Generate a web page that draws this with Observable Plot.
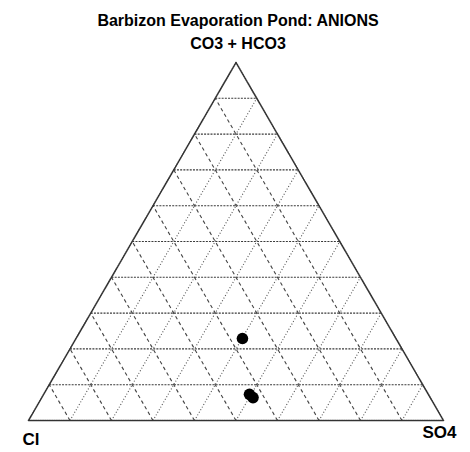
<!DOCTYPE html>
<html>
<head>
<meta charset="utf-8">
<script src="https://cdn.jsdelivr.net/npm/d3@7"></script>
<script src="https://cdn.jsdelivr.net/npm/@observablehq/plot@0.6"></script>
<style>
  html, body { margin: 0; padding: 0; background: #fff; }
  #chart svg { display: block; }
</style>
</head>
<body>
<div id="chart"></div>
<script>
// Anion composition of the pond samples, in percent of total anions
const co3hco3 = [22.9, 7.3, 6.4];
const so4     = [40.1, 49.6, 50.9];
const cl      = [37.0, 43.1, 42.7];

// Grid levels (percent) drawn parallel to each side of the triangle
const gridLevels = [10, 20, 30, 40, 50, 60, 70, 80, 90];

// Apex and corner labels
const title = "Barbizon Evaporation Pond: ANIONS";
const apexLabel = "CO3 + HCO3";
const leftLabel = "Cl";
const rightLabel = "SO4";

const H = Math.sqrt(3) / 2;

// Ternary (Cl, SO4, CO3+HCO3) fractions -> planar coordinates
// Cl at bottom left, SO4 at bottom right, CO3+HCO3 at the top.
function tern(c, s, t) {
  const sum = c + s + t;
  return { x: (s + t / 2) / sum, y: (t / sum) * H };
}

const samples = co3hco3.map((t, i) => ({ ...tern(cl[i], so4[i], t), i }));

const fracs = gridLevels.map((d) => d / 100);
// constant CO3+HCO3: horizontal lines
const horiz = fracs.map((f) => {
  const a = tern(1 - f, 0, f), b = tern(0, 1 - f, f);
  return { x1: a.x, y1: a.y, x2: b.x, y2: b.y };
});
// constant SO4: lines parallel to the Cl–CO3 side
const rising = fracs.map((f) => {
  const a = tern(1 - f, f, 0), b = tern(0, f, 1 - f);
  return { x1: a.x, y1: a.y, x2: b.x, y2: b.y };
});
// constant Cl: lines parallel to the SO4–CO3 side
const falling = fracs.map((f) => {
  const a = tern(f, 1 - f, 0), b = tern(f, 0, 1 - f);
  return { x1: a.x, y1: a.y, x2: b.x, y2: b.y };
});

const corners = [tern(1, 0, 0), tern(0, 1, 0), tern(0, 0, 1), tern(1, 0, 0)];

const font = "'Liberation Sans', Arial, Helvetica, sans-serif";
const headStyle = { fontSize: 16, fontWeight: "bold", fill: "#000", fontFamily: font };
const cornerStyle = { fontSize: 17, fontWeight: "bold", fill: "#000", fontFamily: font };

const chart = Plot.plot({
  width: 470,
  height: 452,
  marginLeft: 28,
  marginRight: 27,
  marginTop: 62,
  marginBottom: 32,
  style: { fontFamily: font, background: "#fff", overflow: "visible" },
  x: { domain: [0, 1], axis: null },
  y: { domain: [0, H], axis: null },
  marks: [
    Plot.link(horiz, { x1: "x1", y1: "y1", x2: "x2", y2: "y2",
      stroke: "#3a3a3a", strokeWidth: 1.1, strokeDasharray: "2,1.2" }),
    Plot.link(rising, { x1: "x1", y1: "y1", x2: "x2", y2: "y2",
      stroke: "#555", strokeWidth: 1.1, strokeDasharray: "1,2" }),
    Plot.link(falling, { x1: "x1", y1: "y1", x2: "x2", y2: "y2",
      stroke: "#444", strokeWidth: 1.1, strokeDasharray: "3.5,3" }),
    Plot.line(corners, { x: "x", y: "y",
      stroke: "#333", strokeWidth: 1.6, strokeDasharray: "1.5,0.8" }),
    Plot.dot(samples, { x: "x", y: "y", r: 5.8, fill: "#000", stroke: "none" }),
    Plot.text([title], { frameAnchor: "top", lineAnchor: "bottom", dy: -37, dx: 2,
      ...headStyle }),
    Plot.text([apexLabel], { frameAnchor: "top", lineAnchor: "bottom", dy: -14, dx: 2,
      ...headStyle }),
    Plot.text([tern(1, 0, 0)], { x: "x", y: "y", text: () => leftLabel,
      textAnchor: "start", lineAnchor: "bottom", dx: -6, dy: 24, ...cornerStyle }),
    Plot.text([tern(0, 1, 0)], { x: "x", y: "y", text: () => rightLabel,
      textAnchor: "end", lineAnchor: "bottom", dx: 13, dy: 17, ...cornerStyle })
  ]
});

document.getElementById("chart").appendChild(chart);
</script>
</body>
</html>
